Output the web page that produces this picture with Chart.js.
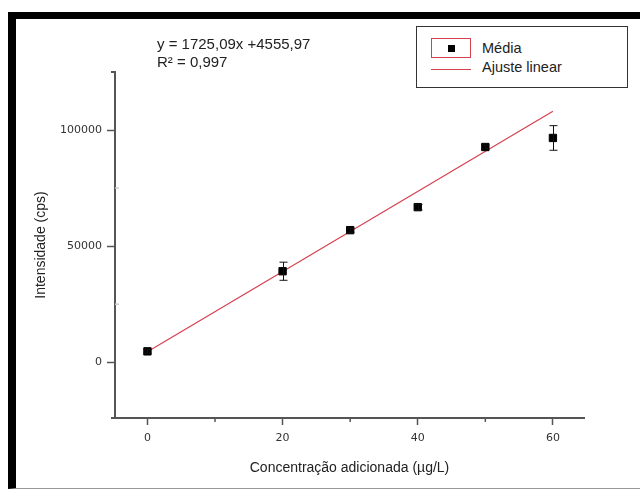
<!DOCTYPE html>
<html>
<head>
<meta charset="utf-8">
<script src="https://cdn.jsdelivr.net/npm/chart.js@4"></script>
<style>
  body { margin: 0; background: #fff; }
  #wrap { position: relative; width: 640px; height: 490px; overflow: hidden; font-family: "Liberation Sans", Arial, sans-serif; }
  #frame { position: absolute; left: 8px; top: 12px; right: -10px; bottom: 1px;
           border-top: 7px solid #000; border-left: 8px solid #000; border-bottom: 1px solid #999; }
  canvas { position: absolute; left: 0; top: 0; }
  #eq { position: absolute; left: 157px; top: 35px; font-size: 15px; line-height: 18px; color: #222; }
  #legend { position: absolute; left: 416px; top: 26px; width: 210px; height: 60px; border: 1px solid #333; background: #fff; }
  #legend .sym { position: absolute; left: 14px; top: 11px; width: 38px; height: 18px; border: 1px solid #d6404f; }
  #legend .sym i { position: absolute; left: 16px; top: 6px; width: 7px; height: 7px; background: #000; }
  #legend .ln { position: absolute; left: 14px; top: 42px; width: 40px; height: 1px; background: #d6404f; }
  #legend span { position: absolute; left: 65px; font-size: 14.5px; color: #222; }
</style>
</head>
<body>
<div id="wrap">
  <div id="frame"></div>
  <canvas id="c" width="640" height="490"></canvas>
  <div id="eq">y = 1725,09x +4555,97<br>R² = 0,997</div>
  <div id="legend">
    <div class="sym"><i></i></div><span style="top:13px">Média</span>
    <div class="ln"></div><span style="top:32px">Ajuste linear</span>
  </div>
</div>
<script>
// mean intensity at each added concentration
const conc  = [0, 20, 30, 40, 50, 60];
const media = [4700, 39200, 56900, 66800, 92700, 96600];
const desvio = [700, 3900, 900, 1200, 800, 5300];

// linear fit end points (y = 1725,09x + 4555,97)
const fitX = [0, 60];
const fitY = [4556, 108061];

const xTicks = [0, 20, 40, 60];
const xMinor = [10, 30, 50];
const yTicks = [0, 50000, 100000];
const yMinor = [25000, 75000];

const AXIS = '#555';
const RED = '#d6404f';

// error bars + minor ticks, placed through the chart scales
const extras = {
  id: 'extras',
  afterDatasetsDraw(chart) {
    const { ctx, scales: { x, y } } = chart;
    ctx.save();
    ctx.strokeStyle = '#111';
    ctx.lineWidth = 1;
    conc.forEach((c, i) => {
      const px = Math.round(x.getPixelForValue(c)) + 0.5;
      const top = y.getPixelForValue(media[i] + desvio[i]);
      const bot = y.getPixelForValue(media[i] - desvio[i]);
      ctx.beginPath();
      ctx.moveTo(px, top); ctx.lineTo(px, bot);
      ctx.moveTo(px - 4, top); ctx.lineTo(px + 4, top);
      ctx.moveTo(px - 4, bot); ctx.lineTo(px + 4, bot);
      ctx.stroke();
    });
    ctx.strokeStyle = AXIS;
    ctx.lineWidth = 1.5;
    const { left, top, bottom } = chart.chartArea;
    xMinor.forEach(v => {
      const px = x.getPixelForValue(v);
      ctx.beginPath(); ctx.moveTo(px, bottom); ctx.lineTo(px, bottom + 4); ctx.stroke();
    });
    // small overhang of the axes, like the original plot
    ctx.lineWidth = 2;
    ctx.beginPath();
    ctx.moveTo(left - 4, bottom); ctx.lineTo(left, bottom);
    ctx.moveTo(left - 4, top); ctx.lineTo(left, top);
    ctx.stroke();
    ctx.strokeStyle = '#ccc';
    ctx.lineWidth = 1.5;
    yMinor.forEach(v => {
      const py = y.getPixelForValue(v);
      ctx.beginPath(); ctx.moveTo(left, py); ctx.lineTo(left + 4, py); ctx.stroke();
    });
    ctx.restore();
  }
};

new Chart(document.getElementById('c'), {
  type: 'scatter',
  data: {
    datasets: [
      {
        label: 'Média',
        data: conc.map((c, i) => ({ x: c, y: media[i] })),
        pointStyle: 'rect',
        pointRadius: 5.2,
        backgroundColor: '#000',
        borderColor: '#000',
        order: 0,
      },
      {
        label: 'Ajuste linear',
        type: 'line',
        data: fitX.map((v, i) => ({ x: v, y: fitY[i] })),
        borderColor: RED,
        borderWidth: 1.2,
        pointRadius: 0,
        fill: false,
        order: 1,
      },
    ],
  },
  options: {
    responsive: false,
    animation: false,
    layout: { padding: { left: 33, top: 72, right: 56, bottom: 13 } },
    plugins: { legend: { display: false }, tooltip: { enabled: false } },
    scales: {
      x: {
        type: 'linear',
        min: -4.8, max: 64.6,
        afterBuildTicks: s => { s.ticks = xTicks.map(v => ({ value: v })); },
        afterFit: s => { s.height = 490 - 13 - 418; },
        grid: { drawOnChartArea: false, tickLength: 7, tickColor: AXIS, tickWidth: 1.5 },
        border: { color: AXIS, width: 2 },
        ticks: { color: '#333', padding: 7, font: { family: 'DejaVu Sans', size: 11 },
                 callback: v => String(v) },
        title: { display: true, text: 'Concentração adicionada (µg/L)', color: '#222',
                 padding: { top: 1, bottom: 0 }, font: { family: 'Liberation Sans', size: 14 } },
      },
      y: {
        min: -24000, max: 125000,
        afterBuildTicks: s => { s.ticks = yTicks.map(v => ({ value: v })); },
        afterFit: s => { s.width = 115 - 33; },
        grid: { drawOnChartArea: false, tickLength: 8, tickColor: AXIS, tickWidth: 1.5 },
        border: { color: AXIS, width: 2 },
        ticks: { color: '#333', padding: 5, font: { family: 'DejaVu Sans', size: 11 },
                 callback: v => String(v) },
        title: { display: true, text: 'Intensidade (cps)', color: '#222',
                 padding: { top: 0, bottom: 0 }, font: { family: 'Liberation Sans', size: 14 } },
      },
    },
  },
  plugins: [extras],
});
</script>
</body>
</html>
